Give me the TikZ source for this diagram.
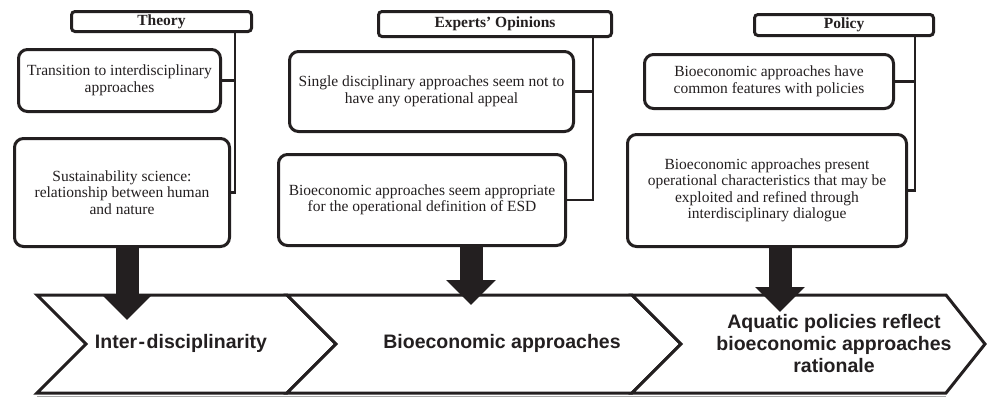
\documentclass[tikz,border=0pt]{standalone}
\usepackage{fontspec}
\setmainfont{Liberation Serif}
\setsansfont{Liberation Sans}
\usepackage{xcolor}
\usepackage{tikz}
\usetikzlibrary{positioning,arrows.meta,calc}
\definecolor{ink}{RGB}{35,31,32}
\tikzset{
  box/.style   = {draw=ink, line width=3pt, rounded corners=9pt, align=center, inner sep=0pt, fill=white, text=ink, font=\fontsize{15.5}{16.5}\selectfont},
  hbox/.style  = {draw=ink, line width=3pt, rounded corners=3.5pt, align=center, inner sep=0pt, fill=white, text=ink, font=\fontsize{15.5}{16.5}\selectfont\bfseries},
  link/.style  = {draw=ink, line width=2.6pt},
  flow/.style  = {draw=ink, line width=23pt, -{Triangle[length=25pt,width=48pt]}},
  chev/.style  = {draw=ink, line width=3pt, fill=white, line join=miter},
  clabel/.style= {align=center, text=ink, font=\sffamily\bfseries\fontsize{19.5}{22}\selectfont},
}
\begin{document}
\begin{tikzpicture}[x=1pt, y=-1pt]
  \useasboundingbox (0,0) rectangle (987,397);
  % headers
  \node[hbox, minimum width=180pt, minimum height=20pt] (hT) at (161.5,21.5) {Theory};
  \node[hbox, minimum width=233pt, minimum height=25pt] (hE) at (495,24) {Experts' Opinions};
  \node[hbox, minimum width=179pt, minimum height=21pt] (hP) at (844,25) {Policy};
  % findings
  \node[box, minimum width=202pt, minimum height=62pt] (T1) at (119.5,80.5) {Transition to interdisciplinary\\approaches};
  \node[box, minimum width=215pt, minimum height=108pt] (T2) at (122,192.5) {Sustainability science:\\relationship between human\\and nature};
  \node[box, minimum width=284pt, minimum height=80pt] (E1) at (431.5,91.5) {Single disciplinary approaches seem not to\\have any operational appeal};
  \node[box, minimum width=287pt, minimum height=91pt] (E2) at (422,200) {Bioeconomic approaches seem appropriate\\for the operational definition of ESD};
  \node[box, minimum width=249pt, minimum height=54pt] (P1) at (769,81.5) {Bioeconomic approaches have\\common features with policies};
  \node[box, minimum width=279pt, minimum height=112pt] (P2) at (767,190.5) {Bioeconomic approaches present\\operational characteristics that may be\\exploited and refined through\\interdisciplinary dialogue};
  % spines
  \coordinate (sT) at (235,0);
  \coordinate (sE) at (593,0);
  \coordinate (sP) at (915,0);
  \draw[link] (hT.south -| sT) -- (sT |- T2.east) -- (T2.east);
  \draw[link] (sT |- T1.east) -- (T1.east);
  \draw[link] (hE.south -| sE) -- (sE |- E2.east) -- (E2.east);
  \draw[link] (sE |- E1.east) -- (E1.east);
  \draw[link] (hP.south -| sP) -- (sP |- P2.east) -- (P2.east);
  \draw[link] (sP |- P1.east) -- (P1.east);
  % chevrons
  \draw[gray!70, line width=1pt] (37,396.5) -- (946,396.5);
  \draw[chev] (37,295) -- (287,295) -- (336,344) -- (287,393) -- (37,393) -- (86,344) -- cycle;
  \draw[chev] (287,295) -- (632,295) -- (681,344) -- (632,393) -- (287,393) -- (336,344) -- cycle;
  \draw[chev] (632,295) -- (946,295) -- (985,344) -- (946,393) -- (632,393) -- (681,344) -- cycle;
  \node[clabel] (c1) at (181,343) {Inter\kern1.5pt-\kern1.5pt disciplinarity};
  \node[clabel] (c2) at (502,343) {Bioeconomic approaches};
  \node[clabel] (c3) at (834,344) {Aquatic policies reflect\\bioeconomic approaches\\rationale};
  % arrows into the chevrons
  \coordinate (t1) at (127,320);
  \coordinate (t2) at (471,305);
  \coordinate (t3) at (780,312);
  \draw[flow] (T2.south -| t1) -- (t1);
  \draw[flow] (E2.south -| t2) -- (t2);
  \draw[flow] (P2.south -| t3) -- (t3);
\end{tikzpicture}
\end{document}
